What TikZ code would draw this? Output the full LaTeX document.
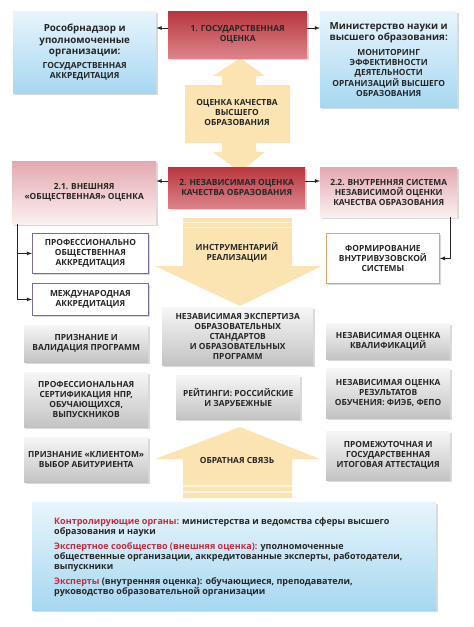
\documentclass[tikz,border=0pt]{standalone}
\usepackage{fontspec}
\setmainfont{Open Sans}
\usetikzlibrary{shadows,calc}
\definecolor{txt}{HTML}{262626}
\definecolor{redl}{HTML}{C8283C}
\definecolor{blueT}{HTML}{E8F5FC}
\definecolor{blueB}{HTML}{A6D7F1}
\definecolor{redT}{HTML}{B8363F}
\definecolor{redB}{HTML}{DC8489}
\definecolor{pinkT}{HTML}{E3A9AF}
\definecolor{pinkB}{HTML}{FBF0F1}
\definecolor{grayT}{HTML}{F6F6F6}
\definecolor{grayB}{HTML}{C3C3C3}
\definecolor{beige}{HTML}{FCE4B2}
\definecolor{beigeL}{HTML}{FFF3D9}
\definecolor{purpleb}{HTML}{7B6C9C}
\definecolor{orangeb}{HTML}{E8A264}
\newcommand{\capsf}{\fontsize{8.4}{10}\selectfont\bfseries}
\newcommand{\mixf}{\fontsize{9.8}{11.5}\selectfont\bfseries}
\tikzset{
  box/.style={rectangle, align=center, inner sep=2pt, text=txt, font=\capsf,
    drop shadow={opacity=0.3, shadow xshift=1.5pt, shadow yshift=-1.5pt}},
  bluebox/.style={box, top color=blueT, bottom color=blueB, draw=none},
  redbox/.style={box, top color=redT, bottom color=redB, draw=none},
  pinkbox/.style={box, top color=pinkT, bottom color=pinkB, draw=none},
  graybox/.style={box, top color=grayT, bottom color=grayB, draw=none},
  whitebox/.style={box, fill=white, draw=purpleb, line width=0.8pt},
  conn/.style={-latex, line width=0.8pt, draw=txt},
  arrowfill/.style={fill=beige},
  stripe/.style={draw=beigeL, line width=1.2pt},
  lbl/.style={text=txt, font=\capsf, align=center},
}
\begin{document}
\begin{tikzpicture}[x=1pt,y=-1pt]
\useasboundingbox (0,0) rectangle (474,627);
% ---- beige arrows (drawn first) ----
\fill[arrowfill] (240,58) -- (265,76) -- (256,76) -- (256,85) -- (290,85) -- (290,143) -- (256,143) -- (256,152) -- (265,152) -- (240,172) -- (213,152) -- (222,152) -- (222,143) -- (185,143) -- (185,85) -- (222,85) -- (222,76) -- (213,76) -- cycle;
\fill[arrowfill] (183,218) rectangle (292,266);
\fill[arrowfill] (155,266) -- (322,266) -- (240,306) -- cycle;
\draw[stripe] (183,222.5) -- (292,222.5);
\draw[stripe] (183,227.5) -- (292,227.5);
\fill[arrowfill] (240,427) -- (320,459) -- (292,459) -- (292,498) -- (183,498) -- (183,459) -- (155,459) -- cycle;
\draw[stripe] (183,486) -- (292,486);
\draw[stripe] (183,492) -- (292,492);
\node[lbl] (aq) at (237,112) {ОЦЕНКА КАЧЕСТВА\\ВЫСШЕГО\\ОБРАЗОВАНИЯ};
\node[lbl] (ai) at (237,252) {ИНСТРУМЕНТАРИЙ\\РЕАЛИЗАЦИИ};
\node[lbl] (af) at (237,460) {ОБРАТНАЯ СВЯЗЬ};
% ---- top row ----
\node[bluebox, font=\mixf, anchor=north west, minimum width=143pt, minimum height=82pt] (ros) at (13,11) {Рособрнадзор и\\уполномоченные\\организации:\\[2pt]\capsf ГОСУДАРСТВЕННАЯ\\[-1.4pt]\capsf АККРЕДИТАЦИЯ};
\node[redbox, anchor=north west, minimum width=139pt, minimum height=47pt] (gos) at (168,11) {1. ГОСУДАРСТВЕННАЯ\\ОЦЕНКА};
\node[bluebox, font=\mixf, anchor=north west, minimum width=137pt, minimum height=96pt] (min) at (320,11) {Министерство науки и\\высшего образования:\\[3.5pt]\capsf МОНИТОРИНГ\\[-1.4pt]\capsf ЭФФЕКТИВНОСТИ\\[-1.4pt]\capsf ДЕЯТЕЛЬНОСТИ\\[-1.4pt]\capsf ОРГАНИЗАЦИЙ ВЫСШЕГО\\[-1.4pt]\capsf ОБРАЗОВАНИЯ};
\draw[conn] (gos.west |- 0,28) -- (ros.east |- 0,28);
\draw[conn] (gos.east |- 0,28) -- (min.west |- 0,28);
% ---- second row ----
\node[pinkbox, anchor=north west, minimum width=144pt, minimum height=63pt] (ext) at (12,161) {2.1. ВНЕШНЯЯ\\«ОБЩЕСТВЕННАЯ» ОЦЕНКА};
\node[redbox, anchor=north west, minimum width=137pt, minimum height=41pt] (ind) at (168,167) {2. НЕЗАВИСИМАЯ ОЦЕНКА\\КАЧЕСТВА ОБРАЗОВАНИЯ};
\node[pinkbox, anchor=north west, minimum width=137pt, minimum height=50pt] (int) at (320,167) {2.2. ВНУТРЕННЯЯ СИСТЕМА\\НЕЗАВИСИМОЙ ОЦЕНКИ\\КАЧЕСТВА ОБРАЗОВАНИЯ};
\draw[conn] (ind.west |- 0,181) -- (ext.east |- 0,181);
\draw[conn] (ind.east |- 0,181) -- (int.west |- 0,181);
% ---- white boxes ----
\node[whitebox, anchor=north west, minimum width=116pt, minimum height=40pt] (poa) at (32,233) {ПРОФЕССИОНАЛЬНО\\ОБЩЕСТВЕННАЯ\\АККРЕДИТАЦИЯ};
\node[whitebox, anchor=north west, minimum width=116pt, minimum height=32pt] (mea) at (32,283) {МЕЖДУНАРОДНАЯ\\АККРЕДИТАЦИЯ};
\node[whitebox, draw=orangeb, anchor=north west, minimum width=113pt, minimum height=50pt] (fvs) at (326,233) {ФОРМИРОВАНИЕ\\ВНУТРИВУЗОВСКОЙ\\СИСТЕМЫ};
\coordinate (lb) at ($(ext.south west)+(5,0)$);
\coordinate (rb) at ($(int.south east)+(-7,0)$);
\draw[conn] (lb) |- (poa.west);
\draw[conn] (lb) |- (mea.west);
\draw[conn] (rb) |- (fvs.east);
% ---- gray boxes ----
\node[graybox, anchor=north west, minimum width=124pt, minimum height=37pt] (prv) at (24,325) {ПРИЗНАНИЕ И\\ВАЛИДАЦИЯ ПРОГРАММ};
\node[graybox, anchor=north west, minimum width=124pt, minimum height=55pt] (pse) at (24,372) {ПРОФЕССИОНАЛЬНАЯ\\СЕРТИФИКАЦИЯ НПР,\\ОБУЧАЮЩИХСЯ,\\ВЫПУСКНИКОВ};
\node[graybox, anchor=north west, minimum width=124pt, minimum height=45pt] (pkl) at (24,437) {ПРИЗНАНИЕ «КЛИЕНТОМ»\\ВЫБОР АБИТУРИЕНТА};
\node[graybox, anchor=north west, minimum width=151pt, minimum height=58pt] (nes) at (162,307) {НЕЗАВИСИМАЯ ЭКСПЕРТИЗА\\ОБРАЗОВАТЕЛЬНЫХ\\СТАНДАРТОВ\\И ОБРАЗОВАТЕЛЬНЫХ\\ПРОГРАММ};
\node[graybox, anchor=north west, minimum width=124pt, minimum height=44pt] (rat) at (176,375) {РЕЙТИНГИ: РОССИЙСКИЕ\\И ЗАРУБЕЖНЫЕ};
\node[graybox, anchor=north west, minimum width=124pt, minimum height=36pt] (nok) at (326,323) {НЕЗАВИСИМАЯ ОЦЕНКА\\КВАЛИФИКАЦИЙ};
\node[graybox, anchor=north west, minimum width=124pt, minimum height=50pt] (nor) at (326,368) {НЕЗАВИСИМАЯ ОЦЕНКА\\РЕЗУЛЬТАТОВ\\ОБУЧЕНИЯ: ФИЭБ, ФЕПО};
\node[graybox, anchor=north west, minimum width=124pt, minimum height=49pt] (pga) at (326,431) {ПРОМЕЖУТОЧНАЯ И\\ГОСУДАРСТВЕННАЯ\\ИТОГОВАЯ АТТЕСТАЦИЯ};
% ---- legend ----
\node[bluebox, anchor=north west, minimum width=404pt, minimum height=108pt] (leg) at (32,502) {};
\node[anchor=north west, align=left, inner sep=0pt, text=txt, font=\fontsize{9}{10}\selectfont\bfseries] (legt) at (54,517) {\textcolor{redl}{Контролирующие органы:} министерства и ведомства сферы высшего\\образования и науки\\[5pt]\textcolor{redl}{Экспертное сообщество (внешняя оценка):} уполномоченные\\общественные организации, аккредитованные эксперты, работодатели,\\выпускники\\[5pt]\textcolor{redl}{Эксперты} (внутренняя оценка): обучающиеся, преподаватели,\\руководство образовательной организации};
\end{tikzpicture}
\end{document}
